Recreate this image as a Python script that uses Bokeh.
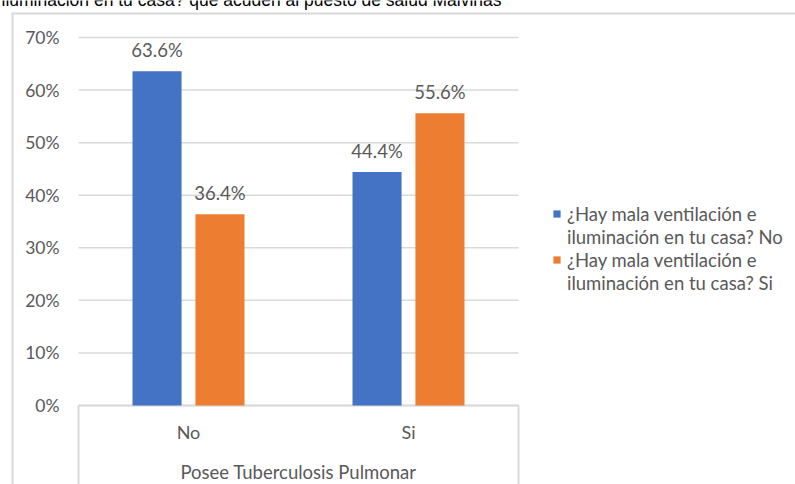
from bokeh.plotting import figure
from bokeh.models import (ColumnDataSource, Range1d, LabelSet, Label, Legend,
                          LegendItem, LinearAxis, FixedTicker, NumeralTickFormatter)
from bokeh.core.properties import value
from bokeh.transform import dodge
from bokeh.embed import file_html
from bokeh.resources import INLINE

# ---- data -------------------------------------------------------------
categories = ["No", "Si"]                      # Posee Tuberculosis Pulmonar
ventilacion_no = [0.636, 0.444]                # ¿Hay mala ventilación...? No
ventilacion_si = [0.364, 0.556]                # ¿Hay mala ventilación...? Si
series_labels = [
    ["¿Hay mala ventilación e", "iluminación en tu casa? No"],
    ["¿Hay mala ventilación e", "iluminación en tu casa? Si"],
]
y_ticks = [0.0, 0.1, 0.2, 0.3, 0.4, 0.5, 0.6, 0.7]
x_title = "Posee Tuberculosis Pulmonar"
chart_title = "iluminación en tu casa? que acuden al puesto de salud Malvinas"

# ---- style ------------------------------------------------------------
BLUE = "#4472C4"
ORANGE = "#ED7D31"
TEXT = "#595959"
LINE = "#d9d9d9"
FONT = "Lato"
FS = "18px"

W, H = 795, 484
LEFT, RIGHT, TOP, BOTTOM = 78, 518, 37, 405     # plotting area in canvas pixels
N = len(categories)
Y_MAX = y_ticks[-1]


def cx(px):
    """canvas x pixel -> data x (one unit per category)"""
    return (px - LEFT) / (RIGHT - LEFT) * N


def cy(px):
    """canvas y pixel -> data y"""
    return (BOTTOM - px) / (BOTTOM - TOP) * Y_MAX


centers = [i + 0.5 for i in range(N)]

src = ColumnDataSource(dict(
    x=centers,
    no=ventilacion_no,
    si=ventilacion_si,
    no_lbl=[f"{v * 100:.1f}%" for v in ventilacion_no],
    si_lbl=[f"{v * 100:.1f}%" for v in ventilacion_si],
))

# the frame covers the whole canvas; the ranges put the plotting area in place
p = figure(
    x_range=Range1d(cx(0), cx(W)),
    y_range=Range1d(cy(H), cy(0)),
    width=W, height=H, min_border=0,
    x_axis_type=None, y_axis_type=None,
    output_backend="svg", toolbar_location=None,
)
p.outline_line_color = None
p.background_fill_color = "white"
p.border_fill_color = "white"
p.xgrid.visible = False
p.ygrid.visible = False

# y axis
yax = LinearAxis(
    fixed_location=0, bounds=(0, Y_MAX),
    ticker=FixedTicker(ticks=y_ticks),
    formatter=NumeralTickFormatter(format="0%"),
    axis_line_color=None, major_tick_line_color=None, minor_tick_line_color=None,
    major_tick_out=0, major_tick_in=0, major_label_standoff=19,
    major_label_text_font=FONT, major_label_text_font_size="17.5px",
    major_label_text_color=TEXT,
)
p.add_layout(yax, "left")

# category axis
xax = LinearAxis(
    fixed_location=0, bounds=(0, N),
    ticker=FixedTicker(ticks=centers),
    major_label_overrides={c: name for c, name in zip(centers, categories)},
    axis_line_color=None, major_tick_line_color=None, minor_tick_line_color=None,
    major_tick_out=0, major_tick_in=0, major_label_standoff=15,
    major_label_text_font=FONT, major_label_text_font_size=FS,
    major_label_text_color=TEXT,
    axis_label=x_title, axis_label_standoff=15,
    axis_label_text_font=FONT, axis_label_text_font_size="18.5px",
    axis_label_text_font_style="normal", axis_label_text_color=TEXT,
)
p.add_layout(xax, "below")

# horizontal grid lines over the plotting area
p.segment(x0=0, x1=N, y0=y_ticks, y1=y_ticks, line_color=LINE, line_width=1.5)

# category box below the plotting area
p.segment(x0=[0, N], x1=[0, N], y0=0, y1=cy(H + 5), line_color=LINE, line_width=2)
p.segment(x0=0, x1=N, y0=0, y1=0, line_color=LINE, line_width=2)

# outer chart border (continues past the right and bottom edges)
p.segment(x0=cx(12), x1=cx(12), y0=cy(13), y1=cy(H + 5), line_color=LINE, line_width=2)
p.segment(x0=cx(11), x1=cx(W + 5), y0=cy(13), y1=cy(13), line_color=LINE, line_width=2)

# bars
OFF, BW = 0.143, 0.223
r_no = p.vbar(x=dodge("x", -OFF), top="no", width=BW, bottom=0,
              source=src, fill_color=BLUE, line_color=None)
r_si = p.vbar(x=dodge("x", OFF), top="si", width=BW, bottom=0,
              source=src, fill_color=ORANGE, line_color=None)

for col, off in (("no", -OFF), ("si", OFF)):
    p.add_layout(LabelSet(
        x=dodge("x", off), y=col, text=f"{col}_lbl",
        source=src, y_offset=10, text_align="center", text_baseline="bottom",
        text_font=value(FONT), text_font_size=value("18.5px"), text_color=value(TEXT),
    ))

# chart title, its upper part runs off the page
p.add_layout(Label(
    x=cx(1), y=cy(-1), text=chart_title,
    text_font="Liberation Sans", text_font_size="17.5px", text_color="#000000",
    text_baseline="alphabetic", text_align="left",
))

# legend: the swatch sits on the first line of each entry
items = []
for (first, second), r in zip(series_labels, (r_no, r_si)):
    items.append(LegendItem(label=first, renderers=[r]))
    items.append(LegendItem(label=second, renderers=[]))

legend = Legend(
    items=items,
    location=(552, H - 294),
    glyph_width=9, glyph_height=9, label_standoff=6,
    label_height=23, padding=0, margin=0, spacing=0,
    border_line_color=None, background_fill_alpha=0,
    label_text_font=FONT, label_text_font_size="18.5px",
    label_text_color=TEXT,
)
p.add_layout(legend)

open("out.html", "w").write(file_html(p, INLINE))
